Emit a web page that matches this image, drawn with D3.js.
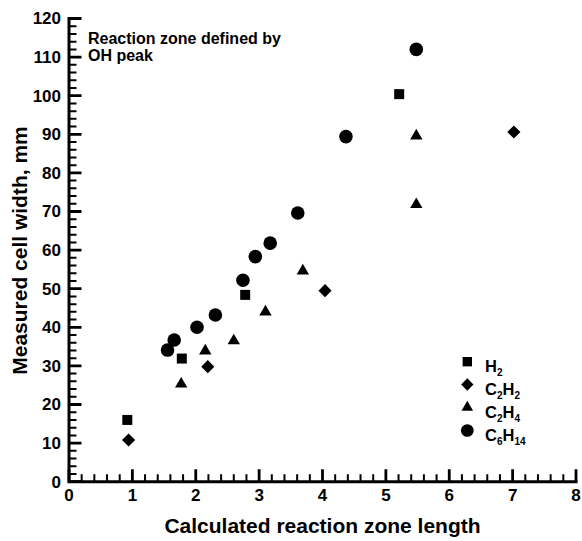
<!DOCTYPE html>
<html>
<head>
<meta charset="utf-8">
<script src="https://cdn.jsdelivr.net/npm/d3@7"></script>
<style>
  html, body { margin: 0; padding: 0; background: #fff; }
  svg { display: block; font-family: "Liberation Sans", Arial, Helvetica, sans-serif; }
  text { font-weight: bold; fill: #000; }
</style>
</head>
<body>
<svg id="chart" width="582" height="541"></svg>
<script>
// ---- data ----
const seriesNames = ["H2", "C2H2", "C2H4", "C6H14"];
const h2 = [[0.92, 16.0], [1.78, 31.9], [2.78, 48.4], [5.21, 100.4]];
const c2h2 = [[0.94, 10.8], [2.19, 29.8], [4.04, 49.5], [7.02, 90.6]];
const c2h4 = [[1.77, 25.3], [2.15, 33.9], [2.60, 36.5], [3.10, 44.0], [3.69, 54.6], [5.48, 89.6], [5.48, 71.8]];
const c6h14 = [[1.555, 34.1], [1.66, 36.7], [2.02, 40.0], [2.31, 43.2], [2.745, 52.2], [2.94, 58.3], [3.175, 61.8], [3.61, 69.6], [4.37, 89.4], [5.48, 112.0]];
const xTicks = [0, 1, 2, 3, 4, 5, 6, 7, 8];
const yTicks = [0, 10, 20, 30, 40, 50, 60, 70, 80, 90, 100, 110, 120];
const xTitle = "Calculated reaction zone length";
const yTitle = "Measured cell width, mm";
const noteLines = ["Reaction zone defined by", "OH peak"];

// ---- layout ----
const svg = d3.select("#chart");
const x = d3.scaleLinear().domain([0, 8]).range([69, 576]);
const y = d3.scaleLinear().domain([0, 120]).range([481.7, 18.5]);

const xMinor = d3.range(0, 40).map(i => i / 5).filter((v, i) => i % 5 !== 0);
const yMinor = d3.range(0, 61).map(i => i * 2).filter(v => v % 10 !== 0);
const x0 = x(0), y0 = y(0);

// ticks as one path per group (pointing inward)
const tickPath = (vals, len, horiz) => vals.map(v => horiz
  ? `M${x(v)},${y0}V${y0 - len}`
  : `M${x0},${y(v)}H${x0 + len}`).join("");

svg.append("path").attr("d", tickPath(xMinor, 7.5, true)).attr("stroke", "#000").attr("stroke-width", 2).attr("fill", "none");
svg.append("path").attr("d", tickPath(yMinor, 7.5, false)).attr("stroke", "#000").attr("stroke-width", 2).attr("fill", "none");
svg.append("path").attr("d", tickPath(xTicks, 12.5, true)).attr("stroke", "#000").attr("stroke-width", 2.8).attr("fill", "none");
svg.append("path").attr("d", tickPath(yTicks, 12.5, false)).attr("stroke", "#000").attr("stroke-width", 2.8).attr("fill", "none");

// axis lines
svg.append("path")
  .attr("d", `M${x0},${y(120) - 1.5}V${y0}H${x(8) + 1.5}`)
  .attr("stroke", "#000").attr("stroke-width", 3).attr("fill", "none");

// tick labels
svg.append("g").selectAll("text").data(xTicks).join("text")
  .attr("x", d => x(d)).attr("y", y0 + 19).attr("text-anchor", "middle")
  .attr("font-size", 17).text(d => d);
svg.append("g").selectAll("text").data(yTicks).join("text")
  .attr("x", x0 - 8).attr("y", d => y(d)).attr("dy", "0.35em").attr("text-anchor", "end")
  .attr("font-size", 17).text(d => d);

// ---- markers ----
const shapes = {
  H2: { type: d3.symbolSquare, size: 100, rot: 0 },
  C2H2: { type: d3.symbolSquare, size: 86, rot: 45 },
  C2H4: { type: d3.symbolTriangle, size: 66, rot: 0 },
  C6H14: { type: d3.symbolCircle, size: 145, rot: 0 }
};
const seriesData = { H2: h2, C2H2: c2h2, C2H4: c2h4, C6H14: c6h14 };

seriesNames.forEach(name => {
  const s = shapes[name];
  const sym = d3.symbol().type(s.type).size(s.size);
  svg.append("g").selectAll("path").data(seriesData[name]).join("path")
    .attr("d", sym)
    .attr("transform", d => `translate(${x(d[0])},${y(d[1])}) rotate(${s.rot})`)
    .attr("fill", "#000");
});

// ---- legend ----
const legendRows = [
  { name: "H2", parts: [["H", 0], ["2", 1]] },
  { name: "C2H2", parts: [["C", 0], ["2", 1], ["H", 0], ["2", 1]] },
  { name: "C2H4", parts: [["C", 0], ["2", 1], ["H", 0], ["4", 1]] },
  { name: "C6H14", parts: [["C", 0], ["6", 1], ["H", 0], ["14", 1]] }
];
const legendSymY = [361.7, 384.5, 407.5, 430.5];
const legendTextY = [372, 395, 418, 441];
const lg = svg.append("g");
legendRows.forEach((r, i) => {
  const s = shapes[r.name];
  lg.append("path")
    .attr("d", d3.symbol().type(s.type).size(s.size * 0.88))
    .attr("transform", `translate(467.3,${legendSymY[i]}) rotate(${s.rot})`)
    .attr("fill", "#000");
  const t = lg.append("text").attr("x", 485).attr("y", legendTextY[i]).attr("font-size", 16.5);
  let prevSub = 0;
  r.parts.forEach(([txt, sub]) => {
    const ts = t.append("tspan").text(txt);
    if (sub) {
      ts.attr("font-size", 10).attr("dy", prevSub ? 0 : 4);
    } else {
      ts.attr("font-size", 16.5).attr("dy", prevSub ? -4 : 0);
    }
    prevSub = sub;
  });
});

// ---- annotation ----
svg.append("text").attr("x", 88).attr("y", 44).attr("font-size", 16).text(noteLines[0]);
svg.append("text").attr("x", 88).attr("y", 61).attr("font-size", 16).text(noteLines[1]);

// ---- axis titles ----
svg.append("text").attr("x", 322.5).attr("y", 533).attr("text-anchor", "middle")
  .attr("font-size", 21).text(xTitle);
svg.append("text").attr("transform", "translate(27,250.5) rotate(-90)").attr("text-anchor", "middle")
  .attr("font-size", 21).text(yTitle);
</script>
</body>
</html>
